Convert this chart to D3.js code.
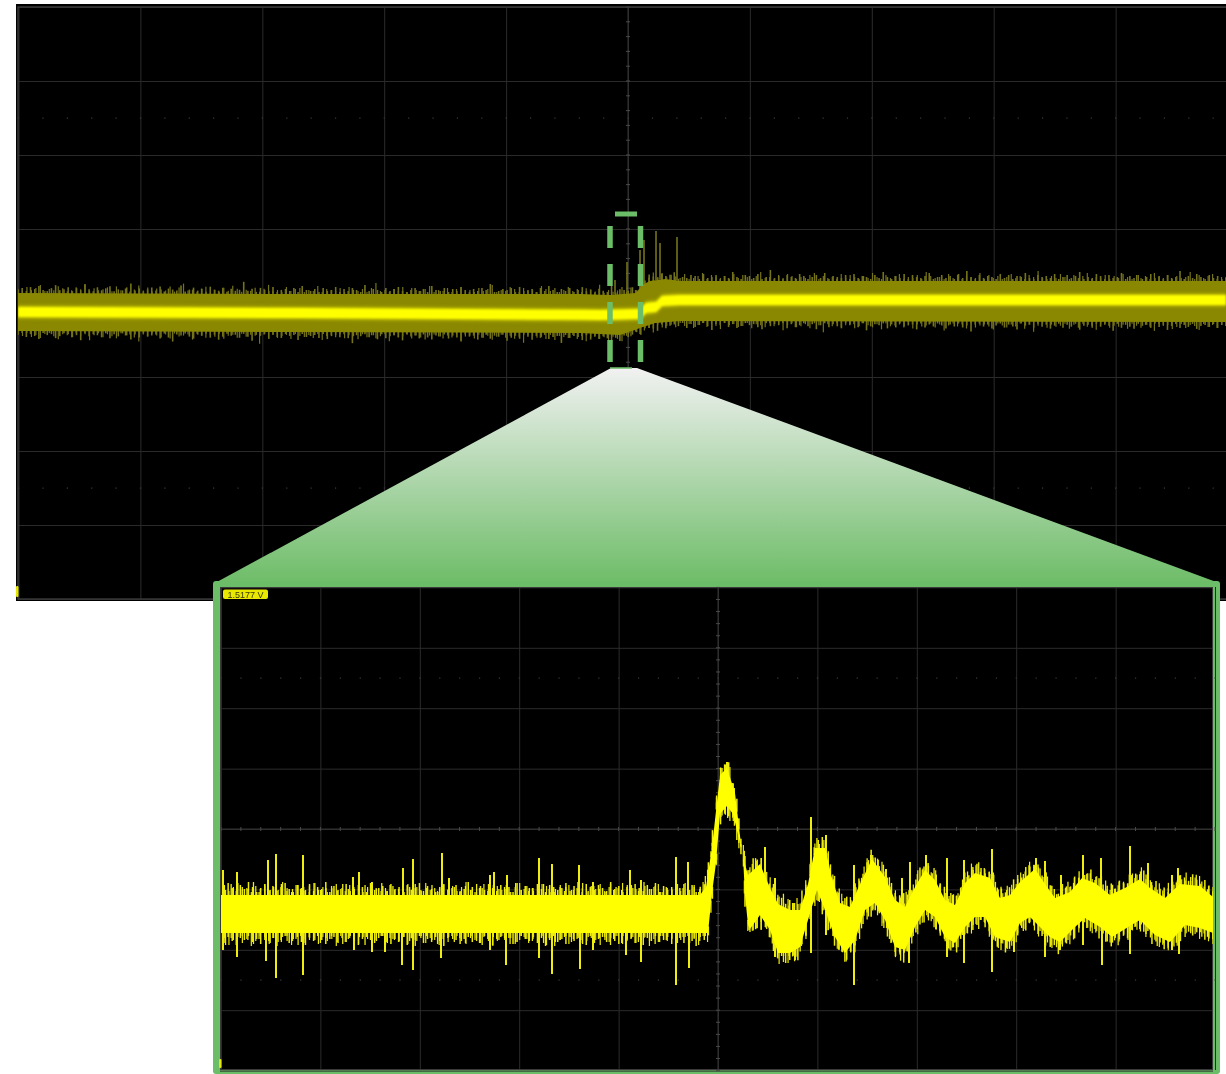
<!DOCTYPE html>
<html><head><meta charset="utf-8">
<style>html,body{margin:0;padding:0;background:#fff}svg{display:block}</style>
<script src="https://cdn.jsdelivr.net/npm/d3@7"></script></head><body>
<svg id="c" width="1226" height="1074"></svg>
<script>
// ---- overview trace (1 horizontal division = 121.9 units, 1 vertical division = 74 units)
const topUpperT=[-610,-328,-48,-18,8,14,22,37,52,598];
const topUpperV=[10,9,9,8,10,18,22,24,22,22];
const topLowerT=[-610,-328,-48,-8,12,27,52,598];
const topLowerV=[-28,-29,-30,-32,-25,-20,-18,-19];
const topCentreT=[-610,-328,-28,12,18,28,34,52,598];
const topCentreV=[-9,-10,-12,-11,-5,-4,2,3,3];
const topSpikeT=[-13,-1,12,16,28,32,49];
const topSpikeV=[23,41,53,63,72,60,66];
const topSmearT=[1,15,32,50];
const topSmearHi=[3,18,31,23];
const topSmearLo=[-19,-17,-7,-7];
const topFuzzUp=[3,5,2,6,4,7,3,2,5,8,3,4,6,2,5,3,9,4,2,6,3,5,7,2,4,3,6,10,3,5,2,4,6,3,7,2,5,4,3,8,2,4,6,3,5,2,7,4,3,6,
2,5,3,4,12,3,5,2,6,4,3,7,2,4,5,3,6,2,8,4,3,5,2,6,3,4,7,2,5,3,6,4,2,9,3,5,4,2,6,3,5,7,3,2,4,6,3,5,2,8,
4,3,6,2,5,3,7,4,2,5,3,6,4,10,2,3,5,4,6,2,7,3,4,5,2,6,3,8,4,2,5,3,6,2,4,7,3,5,2,6,4,3,9,2,5,4,3,6,2,5,
3,7,4,2,6,3,5,8,2,4,3,6,5,2,7,3,4,6,2,5,3,9,4,2,6,5,3,7,2,4,11,3,5,2,6,4,3,7,5,2,4,6,3,8,2,5,4,3,6,2,
7,3,5,4,2,6,3,9,4,2,5,3,7,2,6,4,3,5,8,2,4,6,3,5,2,7,3,10,4,2,6,3,5,4,2,7,3,6,2,5,4,8,3,2,6,4,5,3,7,2,
4,6,3,5,9,2,4,3,7,5,2,6,3,4,8,2,5,3,6,2,4,7,3,5,2,6,3,4,10,2,5,3,7,4,2,6,3,5,2,4];
const topFuzzDown=[4,2,6,3,5,8,2,4,3,7,5,2,3,6,4,9,2,5,3,4,6,2,7,3,5,2,4,8,3,6,2,5,4,3,7,2,6,10,3,4,2,5,7,3,4,2,6,3,8,5,
2,4,3,6,2,5,9,3,4,2,7,3,5,6,2,4,3,8,2,5,4,3,6,2,7,4,3,5,2,6,11,3,4,2,5,3,7,2,6,4,3,5,8,2,4,3,6,2,5,7,
3,4,2,6,3,5,9,2,4,3,7,5,2,6,3,4,2,8,5,3,6,2,4,7,3,5,2,6,4,3,10,2,5,3,4,7,2,6,3,5,2,4,8,3,6,2,5,4,3,7,
2,3,5,8,2,6,4,3,5,2,7,3,6,4,2,5,9,3,4,2,6,3,7,5,2,4,3,6,8,2,5,3,4,2,7,3,6,4,2,5,3,8,4,2,6,3,5,7,2,4,
3,6,2,9,5,3,4,2,7,3,6,2,5,4,3,8,2,6,3,5,2,4,7,3,5,2,6,4,10,3,2,5,3,7,4,2,6,3,5,8,2,4,3,6,2,5,3,7,4,2,
6,3,5,2,8,4,3,6,2,5,3,4,9,2,6,3,5,7,2,4,3,6,2,5,3,8,4,2,6,3,5,2,7,4,3,5,2,6,3,4];

// ---- zoomed trace (1 horizontal division = 99.4 units, 1 vertical division = 60.4 units)
const zoomUpperT=[-498,-18,-12,-6,2,9,17,24,30,42,52,60,72,82,90,97,107,114,122,132,142,154,167,177,187,197,207,217,227,237,247,257,272,282,292,302,317,327,337,352,364,377,392,407,422,432,447,462,482,495];
const zoomUpperV=[-66,-66,-58,-18,54,61,36,-24,-46,-35,-59,-75,-81,-81,-55,-19,-19,-49,-74,-78,-55,-30,-48,-71,-78,-58,-41,-51,-71,-76,-54,-44,-49,-69,-66,-53,-40,-55,-69,-63,-49,-54,-66,-59,-50,-59,-69,-55,-57,-68];
const zoomLowerT=[-498,-18,-10,-6,-2,2,9,15,22,25,27,30,32,42,52,60,72,82,90,99,107,117,127,137,147,157,167,177,187,197,207,217,227,237,247,257,267,277,292,302,312,322,332,342,357,367,382,394,410,422,437,452,467,482,495];
const zoomLowerV=[-104,-104,-104,-64,-34,15,23,15,-14,-28,-66,-96,-100,-86,-101,-124,-124,-118,-91,-61,-81,-108,-124,-111,-81,-74,-91,-118,-121,-98,-81,-88,-108,-114,-98,-88,-88,-108,-113,-94,-88,-98,-108,-113,-98,-89,-98,-108,-98,-91,-106,-113,-96,-99,-104];
const zoomSpikeUpT=[-495,-481,-450,-442,-415,-365,-359,-346,-315,-305,-276,-269,-228,-224,-211,-179,-166,-139,-125,-88,-77,-42,-30,9,47,57,93,108,136,153,168,184,192,208,229,246,274,318,327,343,365,383,412,430,454,460];
const zoomSpikeUpV=[-41,-43,-31,-25,-26,-48,-43,-53,-39,-30,-24,-49,-46,-43,-46,-29,-35,-36,-53,-41,-51,-28,-33,67,-18,-49,12,-6,-36,-26,-40,-49,-33,-26,-29,-31,-20,-29,-32,-46,-26,-29,-17,-34,-46,-39];
const zoomSpikeDownT=[-495,-481,-452,-442,-415,-364,-346,-333,-316,-305,-277,-228,-212,-179,-166,-138,-125,-92,-77,-42,-29,57,77,93,108,136,191,229,246,274,296,327,342,365,384,412,454,461];
const zoomSpikeDownV=[-121,-128,-132,-149,-146,-121,-123,-123,-136,-141,-129,-121,-136,-129,-145,-140,-121,-126,-133,-156,-139,-128,-131,-124,-106,-156,-134,-128,-134,-143,-123,-128,-121,-116,-136,-125,-121,-125];
const zoomFuzzUp=[9,5,12,7,4,10,6,13,8,3,7,11,5,9,4,8,12,6,3,10,7,5,11,4,8,6,13,3,9,5,7,11,4,6,10,8,3,12,5,7,9,4,11,6,8,3,10,5,7,12,
4,9,6,3,8,11,5,7,10,4,6,13,8,3,9,5,11,7,4,10,6,8,3,12,5,9,7,4,11,6,3,10,8,5,7,12,4,9,6,3,11,8,5,10,7,4,13,6,9,3,
8,5,11,7,4,10,6,12,3,9,5,8,4,7,11,6,10,3,8,5,9,13,4,7,6,11,3,10,5,8,4,12,7,9,6,3,11,5,8,4,10,7,6,13,3,9,5,8,11,4,
7,10,6,3,9,5,12,8,4,7,11,6,3,10,5,9,4,8,13,7,3,6,11,5,10,4,8,7,12,3,9,6,5,11,4,8,10,7,3,6,12,5,9,4,8,11,6,3,10,7,
5,9,4,13,6,8,3,11,7,5,10,4,9,6,12,3,8,5,7,11,4,10,6,3,9,8,5,12,7,4,11,6,10,3,8,5,9,7,4,11,6,3,10,8,5];
const zoomFuzzDown=[6,10,4,8,12,5,7,3,9,6,11,4,8,5,13,7,3,10,6,4,9,12,5,8,3,7,11,6,4,10,5,9,3,8,12,6,4,7,10,5,3,9,11,6,8,4,12,5,7,3,
10,6,9,4,8,13,5,3,7,11,6,4,9,5,10,3,8,12,6,4,7,5,11,9,3,6,8,4,10,5,13,7,3,9,6,11,4,8,5,7,12,3,10,6,4,9,5,8,11,3,
7,6,10,4,12,5,8,3,9,7,4,11,6,5,10,3,8,13,4,7,6,9,3,11,5,8,4,10,7,12,3,6,9,5,4,8,11,6,3,10,7,5,12,4,9,6,3,8,11,5,
4,10,7,3,9,6,12,5,8,4,11,7,3,6,10,5,9,4,13,8,3,7,6,11,5,4,10,8,3,9,6,12,5,7,4,11,8,3,10,6,5,9,4,12,7,3,8,6,11,5,
4,9,7,3,10,6,13,5,8,4,11,3,7,9,6,5,12,4,8,10,3,7,6,11,5,4,9,8,3,12,6,5,10,7,4,8,11,3,6,9,5,4,10,7,6];

const dotsPerDivision=5, divisions=[-5,-4,-3,-2,-1,0,1,2,3,4,5];
const rowsY=[-4,-3,-2,-1,0,1,2,3,4];
const cursorLabel="1.5177 V";

const svg=d3.select("#c");
const defs=svg.append("defs");
function blur(id,s){defs.append("filter").attr("id",id).attr("x","-5%").attr("y","-30%").attr("width","110%").attr("height","160%")
  .append("feGaussianBlur").attr("stdDeviation",s);}
blur("b03",0.35);blur("b05",0.5);blur("b1",1.1);blur("b2",1.8);
const grad=defs.append("linearGradient").attr("id","fan").attr("x1",0).attr("y1",0).attr("x2",0).attr("y2",1);
grad.append("stop").attr("offset","0%").attr("stop-color","#f1f1f1");
grad.append("stop").attr("offset","100%").attr("stop-color","#6ebd68");
[["cTop",18,7,1208,592],["cZoom",221,588,992,481]].forEach(([id,x,y,w,h])=>defs.append("clipPath").attr("id",id)
  .append("rect").attr("x",x).attr("y",y).attr("width",w).attr("height",h));

const GREEN="#6cbd67", GRID="#2b2b2b";

function graticule(g,x,y,divX,divY){
  const [l,r]=x.range(),[t,b]=y.range();
  const gg=g.append("g").attr("filter","url(#b03)");
  const vAxis=d3.axisBottom(x).tickValues(divisions.map(d=>d*divX)).tickSize(-(b-t)).tickFormat("");
  gg.append("g").attr("transform",`translate(0,${b})`).call(vAxis).call(s=>{s.select(".domain").remove();s.selectAll("line").attr("stroke",GRID).attr("stroke-width",1);});
  const hAxis=d3.axisLeft(y).tickValues(rowsY.map(d=>d*divY)).tickSize(-(r-l)).tickFormat("");
  gg.append("g").attr("transform",`translate(${l},0)`).call(hAxis).call(s=>{s.select(".domain").remove();s.selectAll("line").attr("stroke",GRID).attr("stroke-width",1);});
  const minor=d3.range(-5*dotsPerDivision,5*dotsPerDivision+1).map(d=>d/dotsPerDivision);
  const minorY=d3.range(-4*dotsPerDivision,4*dotsPerDivision+1).map(d=>d/dotsPerDivision);
  gg.append("line").attr("x1",x(0)).attr("x2",x(0)).attr("y1",t).attr("y2",b).attr("stroke","#343434");
  gg.append("line").attr("y1",y(0)).attr("y2",y(0)).attr("x1",l).attr("x2",r).attr("stroke","#343434");
  gg.selectAll(".tx").data(minor).join("line").attr("x1",d=>x(d*divX)).attr("x2",d=>x(d*divX)).attr("y1",y(0)-2).attr("y2",y(0)+2).attr("stroke","#4a4a4a");
  gg.selectAll(".ty").data(minorY).join("line").attr("y1",d=>y(d*divY)).attr("y2",d=>y(d*divY)).attr("x1",x(0)-2).attr("x2",x(0)+2).attr("stroke","#4a4a4a");
  [-2.5,2.5].forEach(q=>{
    gg.selectAll(".dot"+(q>0?"a":"b")).data(minor).join("rect").attr("x",d=>x(d*divX)-.5).attr("y",y(q*divY)-.5).attr("width",1.2).attr("height",1.2).attr("fill","#3c3c3c");
  });
}

// needles: two combs of differing pitch, so the noise edge never lines up into a regular pattern
function comb(g,vals,x,y,t0,span,base,dir,inset,color,w){
  const step=span/(vals.length-1);
  g.append("g").selectAll("line").data(vals).join("line")
    .attr("x1",(d,i)=>x(t0+i*step)).attr("x2",(d,i)=>x(t0+i*step))
    .attr("y1",(d,i)=>y(base(t0+i*step)-dir*inset)).attr("y2",(d,i)=>y(base(t0+i*step)+dir*d))
    .attr("stroke",color).attr("stroke-width",w);
}

// ---------- overview scope
svg.append("rect").attr("x",16).attr("y",4).attr("width",1210).attr("height",597).attr("fill","#000");
const xT=d3.scaleLinear().domain([-610,598]).range([18,1226]);
const yT=d3.scaleLinear().domain([296,-296]).range([7,599]);
const gT=svg.append("g");
graticule(gT,xT,yT,121.9,74);
gT.append("rect").attr("x",18).attr("y",7).attr("width",1210).attr("height",592).attr("fill","none").attr("stroke","#3a3a3a").attr("stroke-width",1.4);

const uT=d3.scaleLinear().domain(topUpperT).range(topUpperV);
const lT=d3.scaleLinear().domain(topLowerT).range(topLowerV);
const cT=d3.scaleLinear().domain(topCentreT).range(topCentreV);
const tTop=d3.merge([topUpperT,topLowerT,topCentreT]).sort(d3.ascending);
const tr=gT.append("g").attr("clip-path","url(#cTop)");
const fT=tr.append("g").attr("filter","url(#b05)");
const OL="#75731a";
comb(fT,topFuzzUp,xT,yT,-610,1208,uT,1,2,OL,1.6);
comb(fT,topFuzzDown.slice(0,271),xT,yT,-610,1208,uT,1,2,OL,1.2);
comb(fT,topFuzzDown,xT,yT,-610,1208,lT,-1,2,OL,1.6);
comb(fT,topFuzzUp.slice(0,271),xT,yT,-610,1208,lT,-1,2,OL,1.2);
fT.selectAll(".sp").data(topSpikeT).join("line")
  .attr("x1",d=>xT(d)).attr("x2",d=>xT(d)).attr("y1",d=>yT(uT(d))).attr("y2",(d,i)=>yT(topSpikeV[i]))
  .attr("stroke",OL).attr("stroke-width",1.6);
tr.append("path").datum(tTop).attr("fill","#8a8800").attr("filter","url(#b05)")
  .attr("d",d3.area().x(d=>xT(d)).y0(d=>yT(lT(d))).y1(d=>yT(uT(d))));
tr.append("path").datum(tTop).attr("fill","#b0ae00").attr("filter","url(#b2)")
  .attr("d",d3.area().x(d=>xT(d)).y0(d=>yT(cT(d)-7)).y1(d=>yT(cT(d)+7)));
tr.append("g").selectAll("line").data(topSmearT).join("line")
  .attr("x1",d=>xT(d)).attr("x2",d=>xT(d)).attr("y1",(d,i)=>yT(topSmearHi[i])).attr("y2",(d,i)=>yT(topSmearLo[i]))
  .attr("stroke","#d2d000").attr("stroke-width",3).attr("filter","url(#b05)");
tr.append("path").datum(tTop).attr("fill","#ffff00").attr("filter","url(#b1)")
  .attr("d",d3.area().x(d=>xT(d)).y0(d=>yT(cT(d)-5)).y1(d=>yT(cT(d)+5)));
gT.append("rect").attr("x",xT(-610)-2).attr("y",yT(-283)).attr("width",2.5).attr("height",yT(-294)-yT(-283)).attr("rx",1).attr("fill","#e6e600");

// ---------- fan and dashed selection
svg.append("path").attr("fill","url(#fan)").attr("d",d3.line()([[611,368],[637,368],[1219,583],[215,583]])+"Z");
svg.append("line").attr("x1",610).attr("x2",632).attr("y1",368).attr("y2",368).attr("stroke",GREEN).attr("stroke-width",1.6);
const sel=svg.append("g").attr("stroke",GREEN).attr("fill","none");
sel.append("line").attr("x1",615).attr("x2",637).attr("y1",214).attr("y2",214).attr("stroke-width",5);
[610,640.5].forEach(x=>sel.append("line").attr("x1",x).attr("x2",x).attr("y1",226).attr("y2",362)
  .attr("stroke-width",5.5).attr("stroke-dasharray","22 16"));

// ---------- zoomed scope
svg.append("rect").attr("x",213).attr("y",581).attr("width",1007).attr("height",493).attr("rx",3).attr("fill",GREEN);
svg.append("rect").attr("x",220).attr("y",587).attr("width",993).attr("height",483).attr("fill","#000");
const xZ=d3.scaleLinear().domain([-498,495]).range([220,1213]);
const yZ=d3.scaleLinear().domain([242,-241]).range([587,1070]);
const gZ=svg.append("g");
graticule(gZ,xZ,yZ,99.4,60.4);
gZ.append("rect").attr("x",220.5).attr("y",587.5).attr("width",992).attr("height",482).attr("fill","none").attr("stroke","#3a3a3a");

const uZ=d3.scaleLinear().domain(zoomUpperT).range(zoomUpperV);
const lZ=d3.scaleLinear().domain(zoomLowerT).range(zoomLowerV);
const tZoom=Array.from(new Set(zoomUpperT.concat(zoomLowerT))).sort(d3.ascending);
const trZ=gZ.append("g").attr("clip-path","url(#cZoom)").attr("filter","url(#b03)");
const FZ="#efed08";
comb(trZ,zoomFuzzUp,xZ,yZ,-498,993,uZ,1,3,FZ,1.5);
comb(trZ,zoomFuzzDown.slice(0,223),xZ,yZ,-498,993,uZ,1,3,FZ,1.2);
comb(trZ,zoomFuzzUp.slice(20,199),xZ,yZ,-498,993,uZ,1,3,FZ,1.3);
comb(trZ,zoomFuzzDown,xZ,yZ,-498,993,lZ,-1,3,FZ,1.5);
comb(trZ,zoomFuzzUp.slice(0,223),xZ,yZ,-498,993,lZ,-1,3,FZ,1.2);
comb(trZ,zoomFuzzDown.slice(20,199),xZ,yZ,-498,993,lZ,-1,3,FZ,1.3);
trZ.selectAll(".su").data(zoomSpikeUpT).join("line")
  .attr("x1",d=>xZ(d)).attr("x2",d=>xZ(d)).attr("y1",d=>yZ(uZ(d)-2)).attr("y2",(d,i)=>yZ(zoomSpikeUpV[i]))
  .attr("stroke",FZ).attr("stroke-width",2);
trZ.selectAll(".sd").data(zoomSpikeDownT).join("line")
  .attr("x1",d=>xZ(d)).attr("x2",d=>xZ(d)).attr("y1",d=>yZ(lZ(d)+2)).attr("y2",(d,i)=>yZ(zoomSpikeDownV[i]))
  .attr("stroke",FZ).attr("stroke-width",2);
trZ.append("path").datum(tZoom).attr("fill","#ffff00")
  .attr("d",d3.area().x(d=>xZ(d)).y0(d=>yZ(lZ(d))).y1(d=>yZ(uZ(d))));

gZ.append("rect").attr("x",219).attr("y",yZ(-230)).attr("width",2.5).attr("height",9).attr("rx",1).attr("fill","#e6e600");
gZ.append("rect").attr("x",223).attr("y",589.5).attr("width",45).attr("height",9.5).attr("rx",2).attr("fill","#e8e800");
gZ.append("text").attr("x",245.5).attr("y",597.5).attr("text-anchor","middle").attr("font-family","Liberation Sans, Arial, sans-serif")
  .attr("font-size",9).attr("fill","#3a3a00").text(cursorLabel);
</script></body></html>
